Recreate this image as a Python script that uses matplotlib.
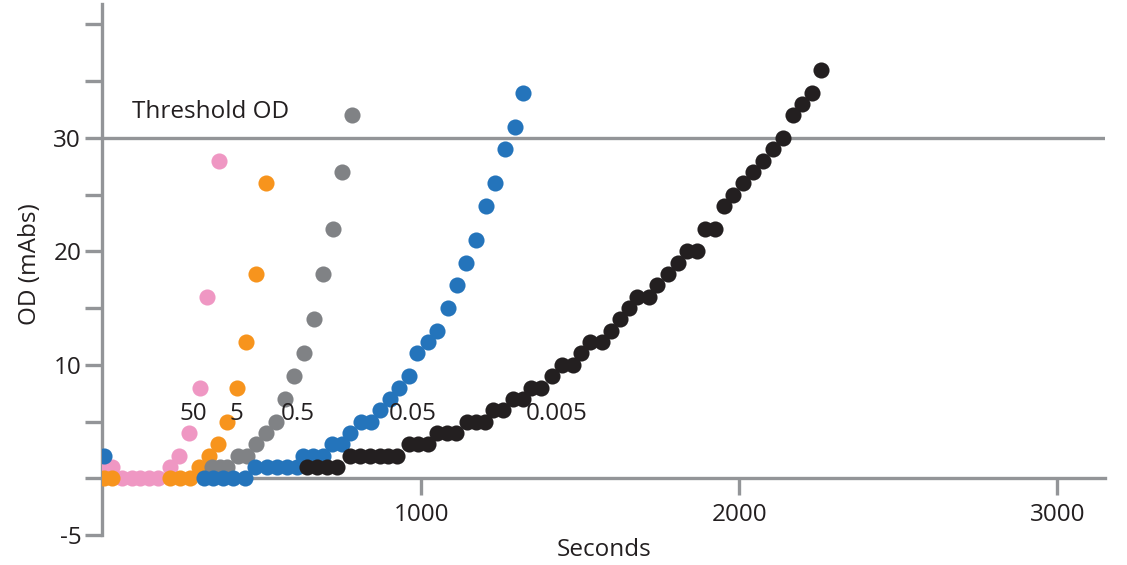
import matplotlib
matplotlib.use("Agg")
import matplotlib.pyplot as plt

# ---------------- data ----------------
pink_t = [0, 27, 57, 89, 115, 144, 172, 209, 238, 270, 303, 326, 364]
pink_v = [1, 1, 0, 0, 0, 0, 0, 1, 2, 4, 8, 16, 28]

orange_t = [0, 25, 209, 241, 272, 301, 331, 361, 388, 419, 448, 480, 510]
orange_v = [0, 0, 0, 0, 0, 1, 2, 3, 5, 8, 12, 18, 26]

gray_t = [340, 366, 389, 424, 450, 480, 511, 542, 571, 600, 630, 662, 691, 723, 751, 780]
gray_v = [1, 1, 1, 2, 2, 3, 4, 5, 7, 9, 11, 14, 18, 22, 27, 32]

blue_t = [0, 315, 345, 375, 408, 445, 476, 513, 545, 576, 608, 628, 660, 691, 720, 749,
          776, 809, 840, 870, 900, 930, 961, 986, 1021, 1050, 1082, 1112, 1140, 1171,
          1203, 1232, 1262, 1293, 1318]
blue_v = [2, 0, 0, 0, 0, 0, 1, 1, 1, 1, 1, 2, 2, 2, 3, 3, 4, 5, 5, 6, 7, 8, 9, 11, 12,
          13, 15, 17, 19, 21, 24, 26, 29, 31, 34]

black_t = [640, 671, 703, 734, 774, 806, 838, 869, 895, 923, 960, 989, 1021, 1049, 1080,
           1108, 1143, 1171, 1200, 1225, 1256, 1288, 1319, 1344, 1376, 1410, 1442, 1476,
           1502, 1530, 1568, 1596, 1624, 1652, 1678, 1715, 1741, 1775, 1807, 1835, 1866,
           1892, 1923, 1951, 1980, 2011, 2043, 2074, 2106, 2137, 2168, 2197, 2228, 2257]
black_v = [1, 1, 1, 1, 2, 2, 2, 2, 2, 2, 3, 3, 3, 4, 4, 4, 5, 5, 5, 6, 6, 7, 7, 8, 8, 9,
           10, 10, 11, 12, 12, 13, 14, 15, 16, 16, 17, 18, 19, 20, 20, 22, 22, 24, 25, 26,
           27, 28, 29, 30, 32, 33, 34, 36]

series_labels = ["50", "5", "0.5", "0.05", "0.005"]
label_x = [281, 418, 612, 972, 1426]
label_y = 5.7

threshold = 30
threshold_label = "Threshold OD"

y_ticks = [-5, 0, 5, 10, 15, 20, 25, 30, 35, 40]
y_ticklabels = ["-5", "", "", "10", "", "20", "", "30", "", ""]
x_ticks = [1000, 2000, 3000]
x_ticklabels = ["1000", "2000", "3000"]

# ---------------- style ----------------
plt.rcParams['font.family'] = ['Open Sans', 'DejaVu Sans']
AXC = "#939598"
TXT = "#231F20"
colors = ["#EF97C3", "#F7941D", "#808285", "#2474BB", "#231F20"]
FS = 17.5

fig = plt.figure(figsize=(11.27, 5.65), dpi=100)
ax = fig.add_axes([102 / 1127, 30 / 565, 1003 / 1127, 531 / 565])

ax.axhline(threshold, color=AXC, lw=2.4, zorder=1)

for (t, v), c in zip([(pink_t, pink_v), (orange_t, orange_v), (gray_t, gray_v),
                      (blue_t, blue_v), (black_t, black_v)], colors):
    ax.plot(t, v, linestyle="none", marker="o", markersize=11.6, color=c,
            markeredgewidth=0, zorder=3)

for lab, x in zip(series_labels, label_x):
    ax.text(x, label_y, lab, ha="center", va="center", fontsize=FS, color=TXT, zorder=4)

ax.text(90, 32.3, threshold_label, ha="left", va="center", fontsize=FS, color=TXT)

ax.set_xlim(-5, 3150)
ax.set_ylim(-5, 41.8)

for s in ["top", "right"]:
    ax.spines[s].set_visible(False)
ax.spines["left"].set_color(AXC)
ax.spines["left"].set_linewidth(2.4)
ax.spines["bottom"].set_color(AXC)
ax.spines["bottom"].set_linewidth(2.4)
ax.spines["bottom"].set_position(("data", 0))

ax.set_yticks(y_ticks)
ax.set_yticklabels(y_ticklabels)
ax.set_xticks(x_ticks)
ax.set_xticklabels(x_ticklabels)
ax.tick_params(axis="both", direction="out", length=12, width=2.4, color=AXC,
               labelsize=FS, labelcolor=TXT)
ax.tick_params(axis="y", pad=3)
ax.tick_params(axis="x", pad=6)

ax.set_xlabel("Seconds", fontsize=FS, color=TXT)
ax.set_ylabel("OD (mAbs)", fontsize=FS, color=TXT)
ax.xaxis.set_label_coords(0.501, -0.006)
ax.yaxis.set_label_coords(-0.060, 0.51)

fig.savefig("out.png", dpi=100)
